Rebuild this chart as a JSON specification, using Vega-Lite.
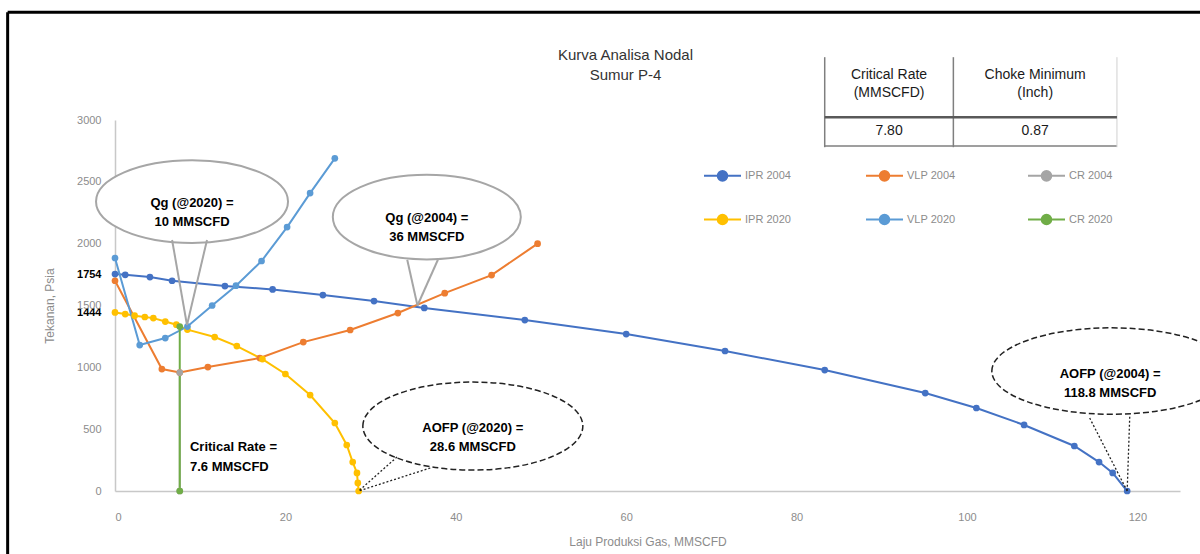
{
  "$schema": "https://vega.github.io/schema/vega-lite/v6.json",
  "autosize": "none",
  "width": 1065,
  "height": 371,
  "padding": {"left": 115, "top": 120, "right": 20, "bottom": 63},
  "background": "white",
  "config": {
    "font": "Liberation Sans",
    "view": {"stroke": null},
    "axis": {"grid": false, "ticks": false, "domainColor": "#c8c8c8", "domainWidth": 1.5, "labelColor": "#8c8c8c", "labelFontSize": 11, "titleColor": "#8c8c8c", "titleFontWeight": "normal", "titleFontSize": 12}
  },
  "title": {"text": ["Kurva Analisa Nodal", "Sumur P-4"], "anchor": "middle", "dx": -22, "offset": 0, "dy": 72, "fontSize": 15, "fontWeight": "normal", "color": "#333333", "lineHeight": 20},
  "datasets": {
    "curves": [
      {"series": "IPR 2004", "q": 0, "p": 1754},
      {"series": "IPR 2004", "q": 1.2, "p": 1748},
      {"series": "IPR 2004", "q": 4.1, "p": 1730},
      {"series": "IPR 2004", "q": 6.7, "p": 1700},
      {"series": "IPR 2004", "q": 12.9, "p": 1657},
      {"series": "IPR 2004", "q": 18.5, "p": 1630},
      {"series": "IPR 2004", "q": 24.4, "p": 1584},
      {"series": "IPR 2004", "q": 30.4, "p": 1536},
      {"series": "IPR 2004", "q": 36.3, "p": 1480},
      {"series": "IPR 2004", "q": 48.1, "p": 1382},
      {"series": "IPR 2004", "q": 60.0, "p": 1269},
      {"series": "IPR 2004", "q": 71.6, "p": 1132},
      {"series": "IPR 2004", "q": 83.3, "p": 978},
      {"series": "IPR 2004", "q": 95.1, "p": 792},
      {"series": "IPR 2004", "q": 101.1, "p": 671},
      {"series": "IPR 2004", "q": 106.7, "p": 534},
      {"series": "IPR 2004", "q": 112.6, "p": 364},
      {"series": "IPR 2004", "q": 115.5, "p": 234},
      {"series": "IPR 2004", "q": 117.1, "p": 146},
      {"series": "IPR 2004", "q": 118.8, "p": 0},
      {"series": "VLP 2004", "q": 0, "p": 1700},
      {"series": "VLP 2004", "q": 5.5, "p": 986},
      {"series": "VLP 2004", "q": 7.6, "p": 958},
      {"series": "VLP 2004", "q": 10.9, "p": 1002},
      {"series": "VLP 2004", "q": 17.0, "p": 1075},
      {"series": "VLP 2004", "q": 22.1, "p": 1204},
      {"series": "VLP 2004", "q": 27.6, "p": 1302},
      {"series": "VLP 2004", "q": 33.2, "p": 1439},
      {"series": "VLP 2004", "q": 38.7, "p": 1600},
      {"series": "VLP 2004", "q": 44.2, "p": 1746},
      {"series": "VLP 2004", "q": 49.6, "p": 2000},
      {"series": "CR 2004", "q": 7.6, "p": 0},
      {"series": "CR 2004", "q": 7.6, "p": 958},
      {"series": "IPR 2020", "q": 0, "p": 1444},
      {"series": "IPR 2020", "q": 1.2, "p": 1431},
      {"series": "IPR 2020", "q": 2.3, "p": 1418},
      {"series": "IPR 2020", "q": 3.5, "p": 1407},
      {"series": "IPR 2020", "q": 4.5, "p": 1398},
      {"series": "IPR 2020", "q": 5.9, "p": 1370},
      {"series": "IPR 2020", "q": 7.2, "p": 1345},
      {"series": "IPR 2020", "q": 8.5, "p": 1305},
      {"series": "IPR 2020", "q": 11.7, "p": 1245},
      {"series": "IPR 2020", "q": 14.3, "p": 1172},
      {"series": "IPR 2020", "q": 17.3, "p": 1067},
      {"series": "IPR 2020", "q": 20.0, "p": 946},
      {"series": "IPR 2020", "q": 22.9, "p": 776},
      {"series": "IPR 2020", "q": 25.8, "p": 550},
      {"series": "IPR 2020", "q": 27.2, "p": 372},
      {"series": "IPR 2020", "q": 27.9, "p": 234},
      {"series": "IPR 2020", "q": 28.4, "p": 146},
      {"series": "IPR 2020", "q": 28.5, "p": 65},
      {"series": "IPR 2020", "q": 28.6, "p": 0},
      {"series": "VLP 2020", "q": 0, "p": 1884},
      {"series": "VLP 2020", "q": 2.9, "p": 1180},
      {"series": "VLP 2020", "q": 5.9, "p": 1237},
      {"series": "VLP 2020", "q": 8.5, "p": 1330},
      {"series": "VLP 2020", "q": 11.4, "p": 1500},
      {"series": "VLP 2020", "q": 14.2, "p": 1660},
      {"series": "VLP 2020", "q": 17.2, "p": 1860},
      {"series": "VLP 2020", "q": 20.2, "p": 2134},
      {"series": "VLP 2020", "q": 22.9, "p": 2409},
      {"series": "VLP 2020", "q": 25.8, "p": 2690},
      {"series": "CR 2020", "q": 7.6, "p": 0},
      {"series": "CR 2020", "q": 7.6, "p": 1330}
    ]
  },
  "layer": [
    {
      "data": {"values": [
        {"x": -12.6, "y": 3872, "x2": 140, "y2": 3872},
        {"x": -12.6, "y": 3872, "x2": -12.6, "y2": -700}
      ]},
      "mark": {"type": "rule", "color": "#000000", "strokeWidth": 3},
      "encoding": {
        "x": {"field": "x", "type": "quantitative"},
        "y": {"field": "y", "type": "quantitative"},
        "x2": {"field": "x2"},
        "y2": {"field": "y2"}
      }
    },
    {
      "data": {"name": "curves"},
      "mark": {"type": "line", "strokeWidth": 2, "point": {"filled": true, "size": 45}},
      "encoding": {
        "x": {"field": "q", "type": "quantitative", "scale": {"domain": [0, 125], "nice": false},
          "axis": {"values": [0, 20, 40, 60, 80, 100, 120], "format": "d", "labelPadding": 20, "title": "Laju Produksi Gas, MMSCFD", "titlePadding": 14}},
        "y": {"field": "p", "type": "quantitative", "scale": {"domain": [0, 3000], "nice": false},
          "axis": {"values": [0, 500, 1000, 1500, 2000, 2500, 3000, 1444, 1754], "format": "d", "labelOverlap": false, "labelPadding": 14,
            "labelColor": {"condition": {"test": "datum.value == 1754 || datum.value == 1444", "value": "#000000"}, "value": "#8c8c8c"},
            "labelFontWeight": {"condition": {"test": "datum.value == 1754 || datum.value == 1444", "value": "bold"}, "value": "normal"},
            "title": "Tekanan, Psia", "titlePadding": 20}},
        "color": {"field": "series", "type": "nominal",
          "scale": {"domain": ["IPR 2004", "VLP 2004", "CR 2004", "IPR 2020", "VLP 2020", "CR 2020"],
                    "range": ["#4472C4", "#ED7D31", "#A5A5A5", "#FFC000", "#5B9BD5", "#70AD47"]},
          "legend": {"orient": "none", "legendX": 588, "legendY": 36, "direction": "horizontal", "columns": 3, "title": null,
            "symbolType": "M -1 0 L 1 0 M -0.26 0 A 0.26 0.26 0 1 0 0.26 0 A 0.26 0.26 0 1 0 -0.26 0 Z",
            "symbolSize": 1369, "symbolStrokeWidth": 2, "labelColor": "#8c8c8c", "labelFontSize": 11, "labelOffset": 3,
            "columnPadding": 68, "rowPadding": 15, "gridAlign": "all", "padding": 0,
            "encode": {"symbols": {"update": {"fill": {"scale": "color", "field": "value"}, "stroke": {"scale": "color", "field": "value"}, "opacity": {"value": 1}}}}}}
      }
    },
    {
      "data": {"values": [{"x": 9.04, "y": 2340}]},
      "mark": {"type": "point", "shape": "M -1 0 A 1 0.43 0 1 1 1 0 A 1 0.43 0 1 1 -1 0 Z", "size": 36864, "filled": false, "fill": "white", "fillOpacity": 1, "stroke": "#a6a6a6", "strokeWidth": 2, "opacity": 1},
      "encoding": {"x": {"field": "x", "type": "quantitative"}, "y": {"field": "y", "type": "quantitative"}}
    },
    {
      "data": {"values": [{"x": 36.6, "y": 2215}]},
      "mark": {"type": "point", "shape": "M -1 0 A 1 0.45 0 1 1 1 0 A 1 0.45 0 1 1 -1 0 Z", "size": 35344, "filled": false, "fill": "white", "fillOpacity": 1, "stroke": "#a6a6a6", "strokeWidth": 2, "opacity": 1},
      "encoding": {"x": {"field": "x", "type": "quantitative"}, "y": {"field": "y", "type": "quantitative"}}
    },
    {
      "data": {"values": [{"x": 42.0, "y": 525}]},
      "mark": {"type": "point", "shape": "M -1 0 A 1 0.4 0 1 1 1 0 A 1 0.4 0 1 1 -1 0 Z", "size": 48400, "filled": false, "fill": "white", "fillOpacity": 1, "stroke": "#222222", "strokeWidth": 1.5, "strokeDash": [6, 3], "opacity": 1},
      "encoding": {"x": {"field": "x", "type": "quantitative"}, "y": {"field": "y", "type": "quantitative"}}
    },
    {
      "data": {"values": [{"x": 117.0, "y": 970}]},
      "mark": {"type": "point", "shape": "M -1 0 A 1 0.36 0 1 1 1 0 A 1 0.36 0 1 1 -1 0 Z", "size": 57600, "filled": false, "fill": "white", "fillOpacity": 1, "stroke": "#222222", "strokeWidth": 1.5, "strokeDash": [6, 3], "opacity": 1},
      "encoding": {"x": {"field": "x", "type": "quantitative"}, "y": {"field": "y", "type": "quantitative"}}
    },
    {
      "data": {"values": [
        {"x": 6.7, "y": 2030, "x2": 8.45, "y2": 1342},
        {"x": 10.8, "y": 2030, "x2": 8.45, "y2": 1342},
        {"x": 34.3, "y": 1870, "x2": 35.5, "y2": 1500},
        {"x": 37.9, "y": 1870, "x2": 35.5, "y2": 1500}
      ]},
      "mark": {"type": "rule", "color": "#a6a6a6", "strokeWidth": 2},
      "encoding": {"x": {"field": "x", "type": "quantitative"}, "y": {"field": "y", "type": "quantitative"}, "x2": {"field": "x2"}, "y2": {"field": "y2"}}
    },
    {
      "data": {"values": [
        {"x": 33.1, "y": 275, "x2": 28.6, "y2": 0},
        {"x": 37.0, "y": 186, "x2": 28.6, "y2": 0},
        {"x": 114.4, "y": 590, "x2": 118.8, "y2": 0},
        {"x": 119.1, "y": 600, "x2": 118.8, "y2": 0}
      ]},
      "mark": {"type": "rule", "color": "#222222", "strokeWidth": 1.3, "strokeDash": [2, 2]},
      "encoding": {"x": {"field": "x", "type": "quantitative"}, "y": {"field": "y", "type": "quantitative"}, "x2": {"field": "x2"}, "y2": {"field": "y2"}}
    },
    {
      "data": {"values": [
        {"x": 9.04, "y": 2332, "t": ["Qg (@2020) =", "10 MMSCFD"]},
        {"x": 36.6, "y": 2211, "t": ["Qg (@2004) =", "36 MMSCFD"]},
        {"x": 42.0, "y": 513, "t": ["AOFP (@2020) =", "28.6 MMSCFD"]},
        {"x": 116.8, "y": 946, "t": ["AOFP (@2004) =", "118.8 MMSCFD"]}
      ]},
      "mark": {"type": "text", "fontWeight": "bold", "fontSize": 13, "color": "#000000", "align": "center", "baseline": "middle", "lineHeight": 19},
      "encoding": {"x": {"field": "x", "type": "quantitative"}, "y": {"field": "y", "type": "quantitative"}, "text": {"field": "t"}}
    },
    {
      "data": {"values": [{"x": 8.8, "y": 356, "t": ["Critical Rate =", "7.6 MMSCFD"]}]},
      "mark": {"type": "text", "fontWeight": "bold", "fontSize": 13, "color": "#000000", "align": "left", "baseline": "middle", "lineHeight": 20},
      "encoding": {"x": {"field": "x", "type": "quantitative"}, "y": {"field": "y", "type": "quantitative"}, "text": {"field": "t"}}
    },
    {
      "data": {"values": [
        {"x": 83.3, "y": 3508, "x2": 83.3, "y2": 2780},
        {"x": 98.4, "y": 3508, "x2": 98.4, "y2": 2780},
        {"x": 83.3, "y": 2789, "x2": 117.6, "y2": 2789}
      ]},
      "mark": {"type": "rule", "color": "#7f7f7f", "strokeWidth": 1.5},
      "encoding": {"x": {"field": "x", "type": "quantitative"}, "y": {"field": "y", "type": "quantitative"}, "x2": {"field": "x2"}, "y2": {"field": "y2"}}
    },
    {
      "data": {"values": [
        {"x": 117.6, "y": 3508, "x2": 117.6, "y2": 2780}
      ]},
      "mark": {"type": "rule", "color": "#d0d0d0", "strokeWidth": 1},
      "encoding": {"x": {"field": "x", "type": "quantitative"}, "y": {"field": "y", "type": "quantitative"}, "x2": {"field": "x2"}, "y2": {"field": "y2"}}
    },
    {
      "data": {"values": [
        {"x": 83.3, "y": 3023, "x2": 117.6, "y2": 3023}
      ]},
      "mark": {"type": "rule", "color": "#595959", "strokeWidth": 2.5},
      "encoding": {"x": {"field": "x", "type": "quantitative"}, "y": {"field": "y", "type": "quantitative"}, "x2": {"field": "x2"}, "y2": {"field": "y2"}}
    },
    {
      "data": {"values": [
        {"x": 90.85, "y": 3363, "t": "Critical Rate"},
        {"x": 90.85, "y": 3217, "t": "(MMSCFD)"},
        {"x": 90.85, "y": 2910, "t": "7.80"},
        {"x": 108.0, "y": 3363, "t": "Choke Minimum"},
        {"x": 108.0, "y": 3217, "t": "(Inch)"},
        {"x": 108.0, "y": 2910, "t": "0.87"}
      ]},
      "mark": {"type": "text", "fontSize": 14, "color": "#1a1a1a", "align": "center", "baseline": "middle"},
      "encoding": {"x": {"field": "x", "type": "quantitative"}, "y": {"field": "y", "type": "quantitative"}, "text": {"field": "t"}}
    }
  ]
}
